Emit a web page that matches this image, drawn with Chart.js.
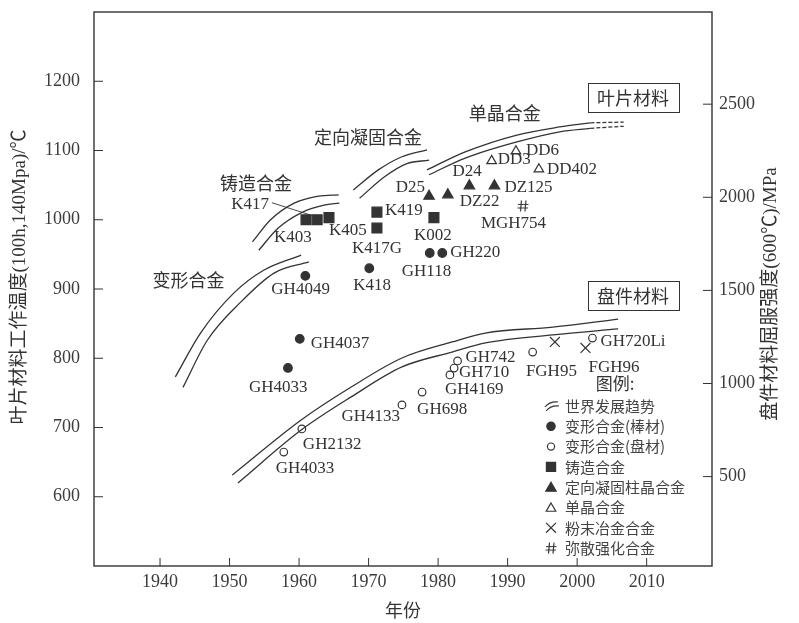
<!DOCTYPE html>
<html>
<head>
<meta charset="utf-8">
<script src="https://cdn.jsdelivr.net/npm/chart.js@4/dist/chart.umd.min.js"></script>
<style>
  html, body { margin: 0; padding: 0; background: #fff; }
  canvas { display: block; }
</style>
</head>
<body>
<canvas id="alloyChart" width="799" height="623"></canvas>
<script>
// axis ticks
const yearTicks = [1940, 1950, 1960, 1970, 1980, 1990, 2000, 2010];
const tempTicks = [600, 700, 800, 900, 1000, 1100, 1200];
const strengthTicks = [500, 1000, 1500, 2000, 2500];

// blade materials - working temperature (°C)
const barYears = [1958.4, 1960.1, 1960.9, 1970.1, 1978.8, 1980.6];
const barTemps = [786, 828, 919, 930, 952, 952];
const castYears = [1961.0, 1962.6, 1964.3, 1971.2, 1971.2, 1979.4];
const castTemps = [1000, 1000, 1003, 1011, 988, 1003];
const dsYears = [1978.7, 1981.4, 1984.5, 1988.1];
const dsTemps = [1034, 1036, 1049, 1049];
const scYears = [1987.7, 1991.2, 1994.5];
const scTemps = [1085, 1099, 1073];
const odsYears = [1992.2];
const odsTemps = [1020];

// disc materials - yield strength at 600°C (MPa)
const discYears = [1957.8, 1960.4, 1974.8, 1977.7, 1981.7, 1982.3, 1982.8, 1993.6, 2002.2];
const discStrength = [632, 756, 885, 954, 1046, 1083, 1121, 1169, 1244];
const pmYears = [1996.8, 2001.2];
const pmStrength = [1223, 1191];

// world trend bands, [year, value]
const wroughtUpper = [[1942.2, 773], [1945.8, 836], [1950.6, 894], [1954.9, 927], [1960.3, 949]];
const wroughtLower = [[1943.3, 758], [1946.8, 826], [1951.6, 881], [1956.4, 923], [1961.4, 939]];
const castUpper = [[1953.3, 968], [1955.9, 1000], [1959.3, 1024], [1962.8, 1034], [1965.7, 1036]];
const castLower = [[1954.2, 956], [1957.0, 988], [1960.3, 1010], [1963.6, 1021], [1965.8, 1024]];
const dsUpper = [[1967.8, 1043], [1971.4, 1072], [1974.8, 1091], [1978.4, 1101]];
const dsLower = [[1968.7, 1031], [1972.3, 1062], [1975.5, 1081], [1978.7, 1086]];
const scUpper = [[1978.4, 1072], [1983.9, 1098], [1991.2, 1122], [1997.5, 1134], [2001.9, 1140]];
const scLower = [[1978.7, 1065], [1983.9, 1089], [1991.2, 1112], [1997.5, 1127], [2001.9, 1132]];
const scUpperNext = [[2001.9, 1140], [2006.7, 1141]];
const scLowerNext = [[2001.9, 1132], [2006.7, 1135]];
const discUpper = [[1950.4, 509], [1960.3, 804], [1967.5, 981], [1974.8, 1137], [1982.0, 1223], [1986.8, 1271], [1996.5, 1303], [2005.9, 1346]];
const discLower = [[1951.2, 466], [1960.3, 750], [1967.5, 928], [1974.8, 1089], [1982.0, 1169], [1986.8, 1218], [1996.5, 1261], [2005.9, 1293]];

// point names: [series, index, name, dx, dy, align, leader]
const pointNames = [
    ['bar', 0, 'GH4033', -39, 20], ['bar', 1, 'GH4037', 11, 5], ['bar', 2, 'GH4049', -34, 14],
    ['bar', 3, 'K418', -16, 17], ['bar', 4, 'GH118', -28, 19], ['bar', 5, 'GH220', 8, 0],
    ['cast', 0, 'K403', -32, 18], ['cast', 1, 'K417', -86, -15, 'left', true],
    ['cast', 3, 'K419', 8, -2], ['cast', 4, 'K405', -48, 2], ['cast', 4, 'K417G', -25, 20],
    ['cast', 5, 'K002', -20, 18],
    ['ds', 0, 'D25', -4, -9, 'right'], ['ds', 1, 'DZ22', 12, 7], ['ds', 2, 'D24', -17, -14], ['ds', 3, 'DZ125', 10, 2],
    ['sc', 0, 'DD3', 6, -1], ['sc', 1, 'DD6', 10, -1], ['sc', 2, 'DD402', 8, 0],
    ['ods', 0, 'MGH754', -42, 18],
    ['disc', 0, 'GH4033', -8, 16], ['disc', 1, 'GH2132', 1, 16], ['disc', 2, 'GH4133', -2, 12, 'right'],
    ['disc', 3, 'GH698', -5, 17], ['disc', 4, 'GH4169', -5, 15], ['disc', 5, 'GH710', 5, 4],
    ['disc', 6, 'GH742', 8, -3], ['disc', 8, 'GH720Li', 8, 3],
    ['pm', 0, 'FGH95', -29, 30], ['pm', 1, 'FGH96', 3, 20]
];

const ink = '#333';
const serif = '"Liberation Serif", "Noto Sans CJK SC", serif';
const cjk = '"Noto Sans CJK SC", sans-serif';

const toPoints = (xs, ys) => xs.map((x, i) => ({ x: x, y: ys[i] }));
const toXY = arr => arr.map(p => ({ x: p[0], y: p[1] }));

// '#' marker for dispersion strengthened alloy
const hashMark = document.createElement('canvas');
hashMark.width = 14;
hashMark.height = 14;
(function () {
    const g = hashMark.getContext('2d');
    g.strokeStyle = ink;
    g.lineWidth = 1.2;
    g.beginPath();
    g.moveTo(5.5, 1.5); g.lineTo(4.5, 12.5);
    g.moveTo(10, 1.5); g.lineTo(9, 12.5);
    g.moveTo(2, 5.5); g.lineTo(12.5, 5.5);
    g.moveTo(1.5, 9); g.lineTo(12, 9);
    g.stroke();
})();

function trend(data, axis, dash) {
    return {
        type: 'line', data: toXY(data), yAxisID: axis,
        borderColor: ink, borderWidth: 1.3, borderDash: dash || [],
        pointRadius: 0, cubicInterpolationMode: 'monotone', fill: false
    };
}

function marks(key, xs, ys, axis, style, radius, filled) {
    return {
        type: 'scatter', key: key, data: toPoints(xs, ys), yAxisID: axis,
        pointStyle: style, pointRadius: radius, pointHoverRadius: radius,
        borderColor: ink, borderWidth: 1.2,
        backgroundColor: filled ? ink : 'rgba(0,0,0,0)'
    };
}

// frame, inward ticks, texts and legend
const decorations = {
    id: 'decorations',
    beforeDatasetsDraw(chart) {
        const { ctx, chartArea: a, scales } = chart;
        ctx.save();
        ctx.strokeStyle = ink;
        ctx.lineWidth = 1.4;
        ctx.strokeRect(a.left, a.top, a.right - a.left, a.bottom - a.top);
        ctx.lineWidth = 1;
        ctx.beginPath();
        scales.x.ticks.forEach(t => {
            const px = scales.x.getPixelForValue(t.value);
            ctx.moveTo(px, a.bottom); ctx.lineTo(px, a.bottom - 8);
        });
        scales.y.ticks.forEach(t => {
            const py = scales.y.getPixelForValue(t.value);
            ctx.moveTo(a.left, py); ctx.lineTo(a.left + 9, py);
        });
        scales.y2.ticks.forEach(t => {
            const py = scales.y2.getPixelForValue(t.value);
            ctx.moveTo(a.right, py); ctx.lineTo(a.right - 9, py);
        });
        ctx.stroke();
        ctx.restore();
    },
    afterDatasetsDraw(chart) {
        const { ctx, chartArea: a, scales } = chart;
        ctx.save();
        ctx.fillStyle = ink;
        ctx.strokeStyle = ink;
        ctx.textBaseline = 'middle';

        // names next to points
        ctx.font = '17px ' + serif;
        pointNames.forEach(([key, idx, name, dx, dy, align, leader]) => {
            const di = chart.data.datasets.findIndex(d => d.key === key);
            const el = chart.getDatasetMeta(di).data[idx];
            ctx.textAlign = align || 'left';
            ctx.fillText(name, el.x + dx, el.y + dy);
            if (leader) {
                const w = ctx.measureText(name).width;
                ctx.lineWidth = 0.9;
                ctx.beginPath();
                ctx.moveTo(el.x + dx + w + 3, el.y + dy - 2);
                ctx.lineTo(el.x - 1, el.y - 3);
                ctx.stroke();
            }
        });

        // family names of the bands
        ctx.font = '18px ' + cjk;
        ctx.textAlign = 'center';
        const x = scales.x, y = scales.y;
        ctx.fillText('变形合金', x.getPixelForValue(1944.1), y.getPixelForValue(913));
        ctx.fillText('铸造合金', x.getPixelForValue(1953.8), y.getPixelForValue(1053));
        ctx.fillText('定向凝固合金', x.getPixelForValue(1969.9), y.getPixelForValue(1119));
        ctx.fillText('单晶合金', x.getPixelForValue(1989.6), y.getPixelForValue(1154));

        // boxed group captions
        [['叶片材料', 98], ['盘件材料', 296]].forEach(([txt, cy]) => {
            ctx.fillText(txt, 633, cy);
            ctx.lineWidth = 1;
            ctx.strokeRect(588.5, cy - 14.5, 91, 29);
        });

        // legend
        ctx.font = '17px ' + cjk;
        ctx.fillText('图例:', 615, 384);
        const items = ['世界发展趋势', '变形合金(棒材)', '变形合金(盘材)', '铸造合金',
            '定向凝固柱晶合金', '单晶合金', '粉末冶金合金', '弥散强化合金'];
        const styles = [null, 'circle', 'circleOpen', 'rect', 'triangle', 'triangleOpen', 'crossRot', 'hash'];
        ctx.font = '15px ' + cjk;
        ctx.textAlign = 'left';
        items.forEach((txt, i) => {
            const ly = 406 + i * 20.3;
            const lx = 551;
            ctx.fillStyle = '#444';
            ctx.fillText(txt, 565, ly);
            ctx.fillStyle = ink;
            const s = styles[i];
            const opts = { pointStyle: s, rotation: 0, radius: 4, borderWidth: 1.2 };
            if (s === null) {
                ctx.lineWidth = 1.1;
                ctx.beginPath();
                ctx.moveTo(545, ly + 1); ctx.quadraticCurveTo(550, ly - 5, 558, ly - 4);
                ctx.moveTo(546, ly + 5); ctx.quadraticCurveTo(551, ly - 1, 559, ly);
                ctx.stroke();
            } else if (s === 'hash') {
                ctx.drawImage(hashMark, lx - 7, ly - 7);
            } else {
                const open = s === 'circleOpen' || s === 'triangleOpen';
                const base = open ? s.replace('Open', '') : s;
                const r = { circle: open ? 3.6 : 4.2, rect: 6.5, triangle: open ? 5.5 : 6, crossRot: 7 }[base];
                ctx.fillStyle = open ? 'rgba(0,0,0,0)' : ink;
                ctx.lineWidth = 1.2;
                Chart.helpers.drawPoint(ctx, { ...opts, pointStyle: base, radius: r }, lx, ly + (base === 'triangle' ? 1 : 0));
                ctx.fillStyle = ink;
            }
        });

        // axis titles
        ctx.fillStyle = ink;
        ctx.textAlign = 'center';
        ctx.font = '18px ' + cjk;
        ctx.fillText('年份', (a.left + a.right) / 2, 610);
        ctx.font = '19px ' + serif;
        ctx.save();
        ctx.translate(20, 277);
        ctx.rotate(-Math.PI / 2);
        ctx.fillText('叶片材料工作温度(100h,140Mpa)/℃', 0, 0);
        ctx.restore();
        ctx.save();
        ctx.translate(771, 294);
        ctx.rotate(-Math.PI / 2);
        ctx.fillText('盘件材料屈服强度(600℃)/MPa', 0, 0);
        ctx.restore();
        ctx.restore();
    }
};

const tickFont = { family: serif, size: 18 };
const tickInk = '#3c3c3c';
const noPad = s => { s.paddingTop = 0; s.paddingBottom = 0; s.paddingLeft = 0; s.paddingRight = 0; };

new Chart(document.getElementById('alloyChart'), {
    type: 'scatter',
    data: {
        datasets: [
            trend(wroughtUpper, 'y'), trend(wroughtLower, 'y'),
            trend(castUpper, 'y'), trend(castLower, 'y'),
            trend(dsUpper, 'y'), trend(dsLower, 'y'),
            trend(scUpper, 'y'), trend(scLower, 'y'),
            trend(scUpperNext, 'y', [4, 2]), trend(scLowerNext, 'y', [4, 2]),
            trend(discUpper, 'y2'), trend(discLower, 'y2'),
            marks('bar', barYears, barTemps, 'y', 'circle', 4.3, true),
            marks('cast', castYears, castTemps, 'y', 'rect', 7, true),
            marks('ds', dsYears, dsTemps, 'y', 'triangle', 6, true),
            marks('sc', scYears, scTemps, 'y', 'triangle', 5.5, false),
            marks('ods', odsYears, odsTemps, 'y', hashMark, 7, false),
            marks('disc', discYears, discStrength, 'y2', 'circle', 3.8, false),
            marks('pm', pmYears, pmStrength, 'y2', 'crossRot', 7, false)
        ]
    },
    options: {
        responsive: false,
        animation: false,
        layout: { padding: { top: 12, left: 0, right: 0, bottom: 0 } },
        plugins: {
            legend: { display: false },
            tooltip: { enabled: false }
        },
        scales: {
            x: {
                type: 'linear', min: 1930.5, max: 2019.4,
                afterBuildTicks: s => { s.ticks = yearTicks.map(v => ({ value: v })); },
                afterFit: s => { s.height = 57; noPad(s); },
                grid: { display: false, drawTicks: false },
                border: { display: false },
                ticks: { font: tickFont, color: tickInk, padding: 5, maxRotation: 0, callback: v => String(v) }
            },
            y: {
                type: 'linear', position: 'left', min: 500, max: 1300,
                afterBuildTicks: s => { s.ticks = tempTicks.map(v => ({ value: v })); },
                afterFit: s => { s.width = 94; noPad(s); },
                grid: { display: false, drawTicks: false },
                border: { display: false },
                ticks: { font: tickFont, color: tickInk, padding: 14, callback: v => String(v) }
            },
            y2: {
                type: 'linear', position: 'right', min: 20, max: 2995,
                afterBuildTicks: s => { s.ticks = strengthTicks.map(v => ({ value: v })); },
                afterFit: s => { s.width = 87; noPad(s); },
                grid: { display: false, drawTicks: false },
                border: { display: false },
                ticks: { font: tickFont, color: tickInk, padding: 7, callback: v => String(v) }
            }
        }
    },
    plugins: [decorations]
});
</script>
</body>
</html>
